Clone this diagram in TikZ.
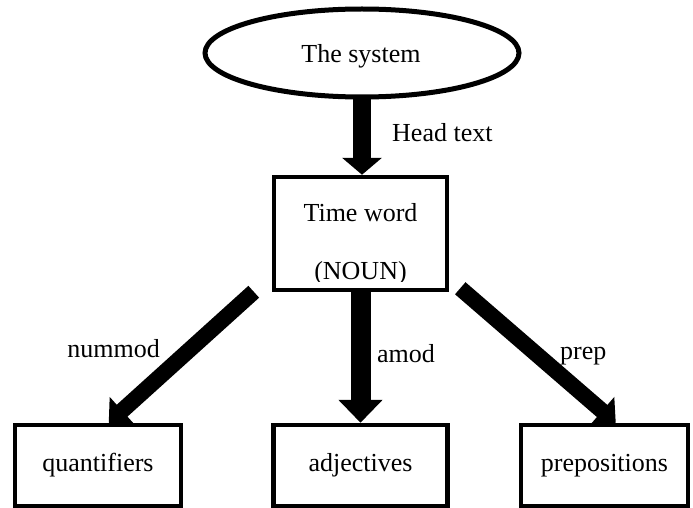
\documentclass[tikz,border=0pt]{standalone}
\usepackage{fontspec}
\setmainfont{Liberation Serif}
\usetikzlibrary{arrows.meta,calc,shapes.geometric}
\begin{document}
\begin{tikzpicture}[x=1pt,y=-1pt,
  txt/.style={font=\fontsize{26pt}{30pt}\selectfont, inner sep=0pt, text=black},
  frame/.style={draw=black, line width=4.5pt, rectangle, inner sep=0pt,
    minimum height=81pt, font=\fontsize{26pt}{30pt}\selectfont},
  oval/.style={draw=black, line width=5pt, ellipse, inner sep=0pt,
    minimum width=314pt, minimum height=88pt},
  fatarrow/.style={draw=black, line cap=butt}
]
\useasboundingbox (0,0) rectangle (693,508);
% nodes
\node[oval] (sys) at (362,53) {};
\node[txt, anchor=base] (systxt) at (361,63) {The system};
\node[frame, minimum width=173pt, minimum height=113pt] (tw) at (360.5,233.5) {};
\node[txt, anchor=base] (twa) at (360.5,221) {Time word};
\begin{scope}
  \clip (tw.north west) rectangle ($(tw.south east)+(0,-10.5)$);
  \node[txt, anchor=base] (twb) at (360.5,279) {(NOUN)};
\end{scope}
\node[frame, minimum width=166pt] (quant) at (98,465.5) {quantifiers};
\node[frame, minimum width=174pt] (adj) at (360.5,465.5) {adjectives};
\node[frame, minimum width=167pt] (prep) at (604.5,465.5) {prepositions};
% connectors
\draw[fatarrow, line width=18pt, -{Triangle[width=39pt,length=17pt]}]
  (sys.south) -- (sys.south |- tw.north);
\draw[fatarrow, line width=20pt, -{Triangle[width=43pt,length=23pt]}]
  (tw.south) -- (adj.north);
\draw[fatarrow, line width=16pt, -{Triangle[width=36pt,length=18pt]}]
  ($(tw.south west)+(-18,-0.5)$) -- ($(quant.north west)+(96,0)$);
\draw[fatarrow, line width=16pt, -{Triangle[width=36pt,length=18pt]}]
  ($(tw.south east)+(11,-4)$) -- ($(prep.north west)+(97,0)$);
% labels
\node[txt, anchor=base west] (lh) at (392,142) {Head text};
\node[txt, anchor=base east] (ln) at (160,357) {nummod};
\node[txt, anchor=base west] (la) at (377,362) {amod};
\node[txt, anchor=base west] (lp) at (560,359) {prep};
\end{tikzpicture}
\end{document}
